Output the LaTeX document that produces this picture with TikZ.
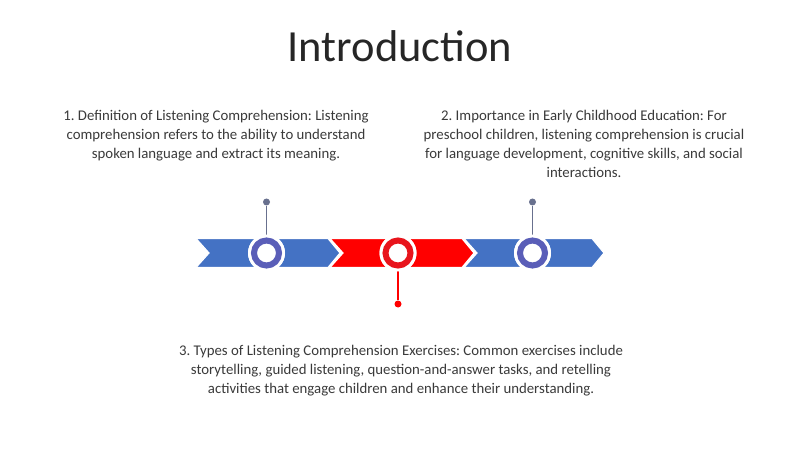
\documentclass[tikz,border=0pt]{standalone}
\usepackage{fontspec}
\setmainfont{Carlito}
\frenchspacing
\definecolor{barblue}{HTML}{4472C4}
\definecolor{ringblue}{HTML}{5A5EB8}
\definecolor{barred}{HTML}{FF0000}
\definecolor{ringred}{HTML}{E8141C}
\definecolor{pingrey}{HTML}{68708E}
\definecolor{txt}{HTML}{3A3A3A}
\definecolor{ttl}{HTML}{262626}
\tikzset{
  seg/.style={draw=white, line width=1.2pt},
  halo/.style={circle, fill=white, minimum size=37pt, inner sep=0pt},
  ringblue/.style={circle, draw=ringblue, line width=6pt, fill=white, minimum size=25pt, inner sep=0pt},
  ringred/.style={circle, draw=ringred, line width=6pt, fill=white, minimum size=25pt, inner sep=0pt},
  pinline/.style={line width=1.2pt},
  pindot/.style={circle, inner sep=0pt, minimum size=7pt},
  body/.style={text=txt, font=\fontsize{14.8}{18.8}\selectfont\frenchspacing, align=center, anchor=north, inner sep=0pt},
}
\begin{document}
\begin{tikzpicture}[x=1pt, y=-1pt]
\useasboundingbox (0,0) rectangle (800,449);
\fill[white] (0,0) rectangle (800,449);
% title
\node[text=ttl, font=\fontsize{44.5}{50}\selectfont, inner sep=0pt] (title) at (400,46) {Introduction};
% chevron segments
\filldraw[seg, fill=barblue] (196,238.5) -- (328,238.5) -- (340,253) -- (328,267.5) -- (196,267.5) -- (209,253) -- cycle;
\filldraw[seg, fill=barred] (330,238.5) -- (462,238.5) -- (474,253) -- (462,267.5) -- (330,267.5) -- (343,253) -- cycle;
\filldraw[seg, fill=barblue] (464,238.5) -- (592,238.5) -- (604,253) -- (592,267.5) -- (464,267.5) -- (477,253) -- cycle;
% pins
\node[pindot, fill=pingrey] (d1) at (266.5,202) {};
\node[pindot, fill=barred] (d2) at (398,304) {};
\node[pindot, fill=pingrey] (d3) at (532.5,202) {};
% circles
\node[halo] (h1) at (266.5,253) {};
\node[halo] (h2) at (398,253) {};
\node[halo] (h3) at (532.5,253) {};
\draw[pinline, pingrey] (d1) -- (h1.center);
\draw[pinline, barred] (d2) -- (h2.center);
\draw[pinline, pingrey] (d3) -- (h3.center);
\node[halo] at (266.5,253) {};
\node[halo] at (398,253) {};
\node[halo] at (532.5,253) {};
\node[ringblue] (c1) at (266.5,253) {};
\node[ringred] (c2) at (398,253) {};
\node[ringblue] (c3) at (532.5,253) {};
% texts
\node[body] (t1) at (216,110.5) {1. Definition of Listening Comprehension: Listening\\comprehension refers to the ability to understand\\spoken language and extract its meaning.};
\node[body] (t2) at (584,110.5) {2. Importance in Early Childhood Education: For\\preschool children, listening comprehension is crucial\\for language development, cognitive skills, and social\\interactions.};
\node[body] (t3) at (401,345.5) {3. Types of Listening Comprehension Exercises: Common exercises include\\storytelling, guided listening, question-and-answer tasks, and retelling\\activities that engage children and enhance their understanding.};
\end{tikzpicture}
\end{document}
